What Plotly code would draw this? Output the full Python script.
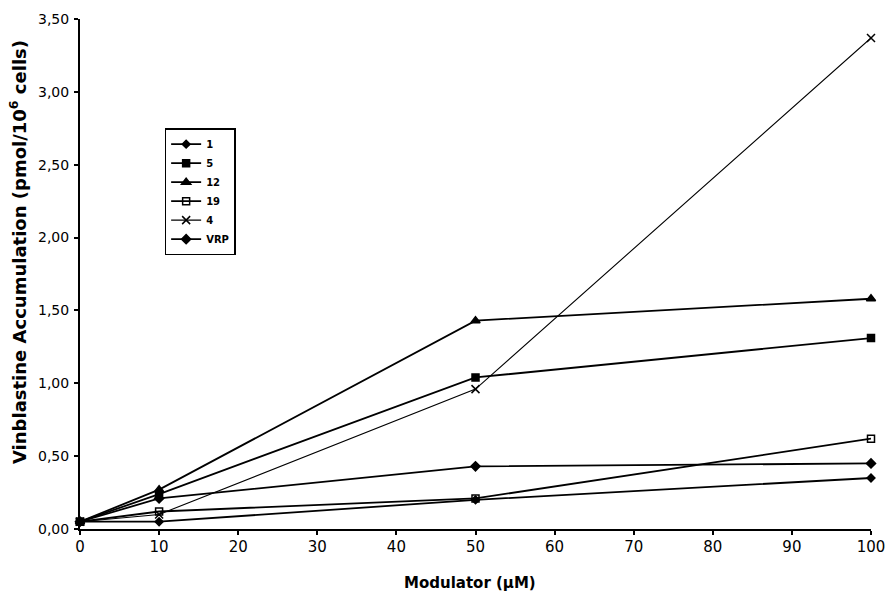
import plotly.graph_objects as go

modulator = [0, 10, 50, 100]
s1 = [0.05, 0.05, 0.20, 0.35]
s5 = [0.05, 0.24, 1.04, 1.31]
s12 = [0.05, 0.27, 1.43, 1.58]
s19 = [0.05, 0.12, 0.21, 0.62]
s4 = [0.05, 0.10, 0.96, 3.37]
vrp = [0.05, 0.21, 0.43, 0.45]

names = ["1", "5", "12", "19", "4", "VRP"]
series = [s1, s5, s12, s19, s4, vrp]
symbols = ["diamond", "square", "triangle-up", "square-open", "x-thin-open", "diamond"]
sizes = [6, 7, 8, 7, 8, 7]
widths = [1.8, 1.8, 1.8, 1.8, 1.1, 1.8]

FONT = "DejaVu Sans, Liberation Sans, Arial, sans-serif"

fig = go.Figure()
for n, s, sym, sz, w in zip(names, series, symbols, sizes, widths):
    fig.add_trace(go.Scatter(
        x=modulator, y=s, name="<b>" + n + "</b>", mode="lines+markers",
        line=dict(color="black", width=w),
        marker=dict(symbol=sym, size=sz, color="black",
                    line=dict(color="black", width=1.5)),
        cliponaxis=False,
    ))

fig.update_layout(
    width=886, height=609,
    margin=dict(l=80, r=15, t=19, b=80),
    paper_bgcolor="white", plot_bgcolor="white",
    separators=", ",
    font=dict(family=FONT, color="black", size=12),
    showlegend=True,
    legend=dict(x=0.107, y=0.786, xanchor="left", yanchor="top",
                bordercolor="black", borderwidth=1.5, bgcolor="white",
                font=dict(size=10, family=FONT, color="black"),
                tracegroupgap=0, itemwidth=30),
    annotations=[
        dict(text="<b>Vinblastine Accumulation (pmol/10<sup>6</sup> cells)</b>",
             textangle=-90, xref="paper", yref="paper",
             x=(18 - 80) / 791, y=(529 - 252) / 510,
             xanchor="center", yanchor="middle", showarrow=False,
             font=dict(size=18, family=FONT, color="black")),
        dict(text="<b>Modulator (μM)</b>", xref="paper", yref="paper",
             x=(470 - 80) / 791, y=(529 - 583) / 510,
             xanchor="center", yanchor="middle", showarrow=False,
             font=dict(size=15, family=FONT, color="black")),
    ],
)
fig.update_xaxes(
    range=[0, 100], tickvals=[0, 10, 20, 30, 40, 50, 60, 70, 80, 90, 100],
    showline=True, linecolor="black", linewidth=2,
    ticks="outside", ticklen=4, tickwidth=1.5, tickcolor="black",
    showgrid=False, zeroline=False, automargin=False,
    ticklabelstandoff=-1,
    tickfont=dict(size=15, family=FONT),
)
fig.update_yaxes(
    range=[0, 3.5], tickvals=[0, 0.5, 1.0, 1.5, 2.0, 2.5, 3.0, 3.5], tickformat=".2f",
    showline=True, linecolor="black", linewidth=2,
    ticks="outside", ticklen=4, tickwidth=1.5, tickcolor="black",
    showgrid=False, zeroline=False, automargin=False,
    ticklabelstandoff=2,
    tickfont=dict(size=14, family=FONT),
)

fig.write_html("out.html")
